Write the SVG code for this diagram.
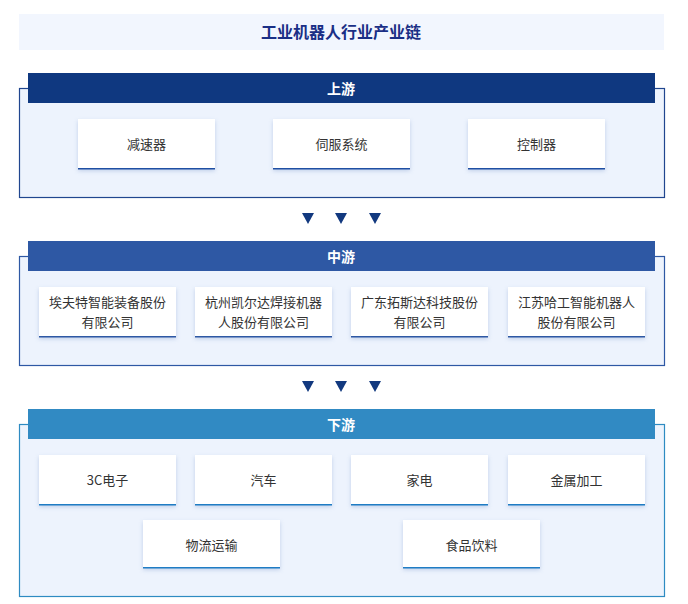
<svg xmlns="http://www.w3.org/2000/svg" width="688" height="604" viewBox="0 0 688 604">
<style>
text{font-family:"Noto Sans CJK SC","Liberation Sans",sans-serif;text-anchor:middle;dominant-baseline:central}
.t{font-size:13px;fill:#333}
.h{font-size:14px;font-weight:bold;fill:#fff}
.box{fill:#fff;filter:url(#sh)}
.frame{fill:#edf3fd;stroke-width:1.2}
.tri{fill:#12397f}
</style>
<defs>
<filter id="sh" x="-10%" y="-20%" width="120%" height="150%"><feDropShadow dx="0" dy="2" stdDeviation="2" flood-color="#8aa3d0" flood-opacity="0.45"/></filter>
</defs>
<rect x="19" y="14" width="645" height="36" fill="#f2f6fe"/>
<text x="341" y="31" style="font-size:16px;font-weight:bold;fill:#1a2f86">工业机器人行业产业链</text>

<g id="upstream">
<rect class="frame" x="19.5" y="88.5" width="645" height="109" stroke="#20468f"/>
<rect x="28" y="73" width="627" height="30" fill="#0f3880"/>
<text class="h" x="341" y="88">上游</text>
</g>
<g id="n-reducer"><rect class="box" x="78" y="119" width="137" height="50"/><rect x="78" y="168" width="137" height="1.5" fill="#1f4fa3"/><text class="t" x="146.5" y="143">减速器</text></g>
<g id="n-servo"><rect class="box" x="273" y="119" width="137" height="50"/><rect x="273" y="168" width="137" height="1.5" fill="#1f4fa3"/><text class="t" x="341.5" y="143">伺服系统</text></g>
<g id="n-ctrl"><rect class="box" x="468" y="119" width="137" height="50"/><rect x="468" y="168" width="137" height="1.5" fill="#1f4fa3"/><text class="t" x="536.5" y="143">控制器</text></g>

<g id="connectors">
<polygon class="tri" points="302,213 314,213 308,224"/>
<polygon class="tri" points="335,213 347,213 341,224"/>
<polygon class="tri" points="369,213 381,213 375,224"/>
<polygon class="tri" points="302,381 314,381 308,392"/>
<polygon class="tri" points="335,381 347,381 341,392"/>
<polygon class="tri" points="369,381 381,381 375,392"/>
</g>

<g id="midstream">
<rect class="frame" x="19.5" y="256.5" width="645" height="109" stroke="#2e58a4"/>
<rect x="28" y="241" width="627" height="30" fill="#2e58a4"/>
<text class="h" x="341" y="256">中游</text>
</g>
<g id="n-m1"><rect class="box" x="39" y="287" width="137" height="50"/><rect x="39" y="336" width="137" height="1.5" fill="#2e58a4"/><text class="t" x="107.5" y="301">埃夫特智能装备股份</text><text class="t" x="107.5" y="321">有限公司</text></g>
<g id="n-m2"><rect class="box" x="195" y="287" width="137" height="50"/><rect x="195" y="336" width="137" height="1.5" fill="#2e58a4"/><text class="t" x="263.5" y="301">杭州凯尔达焊接机器</text><text class="t" x="263.5" y="321">人股份有限公司</text></g>
<g id="n-m3"><rect class="box" x="351" y="287" width="137" height="50"/><rect x="351" y="336" width="137" height="1.5" fill="#2e58a4"/><text class="t" x="419.5" y="301">广东拓斯达科技股份</text><text class="t" x="419.5" y="321">有限公司</text></g>
<g id="n-m4"><rect class="box" x="508" y="287" width="137" height="50"/><rect x="508" y="336" width="137" height="1.5" fill="#2e58a4"/><text class="t" x="576.5" y="301">江苏哈工智能机器人</text><text class="t" x="576.5" y="321">股份有限公司</text></g>

<g id="downstream">
<rect class="frame" x="19.5" y="424.5" width="645" height="172" stroke="#2e8bc2"/>
<rect x="28" y="409" width="627" height="30" fill="#318ac3"/>
<text class="h" x="341" y="424">下游</text>
</g>
<g id="n-d1"><rect class="box" x="39" y="455" width="137" height="50"/><rect x="39" y="504" width="137" height="1.5" fill="#1f7cc4"/><text class="t" x="107.5" y="479">3C电子</text></g>
<g id="n-d2"><rect class="box" x="195" y="455" width="137" height="50"/><rect x="195" y="504" width="137" height="1.5" fill="#1f7cc4"/><text class="t" x="263.5" y="479">汽车</text></g>
<g id="n-d3"><rect class="box" x="351" y="455" width="137" height="50"/><rect x="351" y="504" width="137" height="1.5" fill="#1f7cc4"/><text class="t" x="419.5" y="479">家电</text></g>
<g id="n-d4"><rect class="box" x="508" y="455" width="137" height="50"/><rect x="508" y="504" width="137" height="1.5" fill="#1f7cc4"/><text class="t" x="576.5" y="479">金属加工</text></g>
<g id="n-d5"><rect class="box" x="143" y="520" width="137" height="48"/><rect x="143" y="567" width="137" height="1.5" fill="#1f7cc4"/><text class="t" x="211.5" y="544">物流运输</text></g>
<g id="n-d6"><rect class="box" x="403" y="520" width="137" height="48"/><rect x="403" y="567" width="137" height="1.5" fill="#1f7cc4"/><text class="t" x="471.5" y="544">食品饮料</text></g>
</svg>
